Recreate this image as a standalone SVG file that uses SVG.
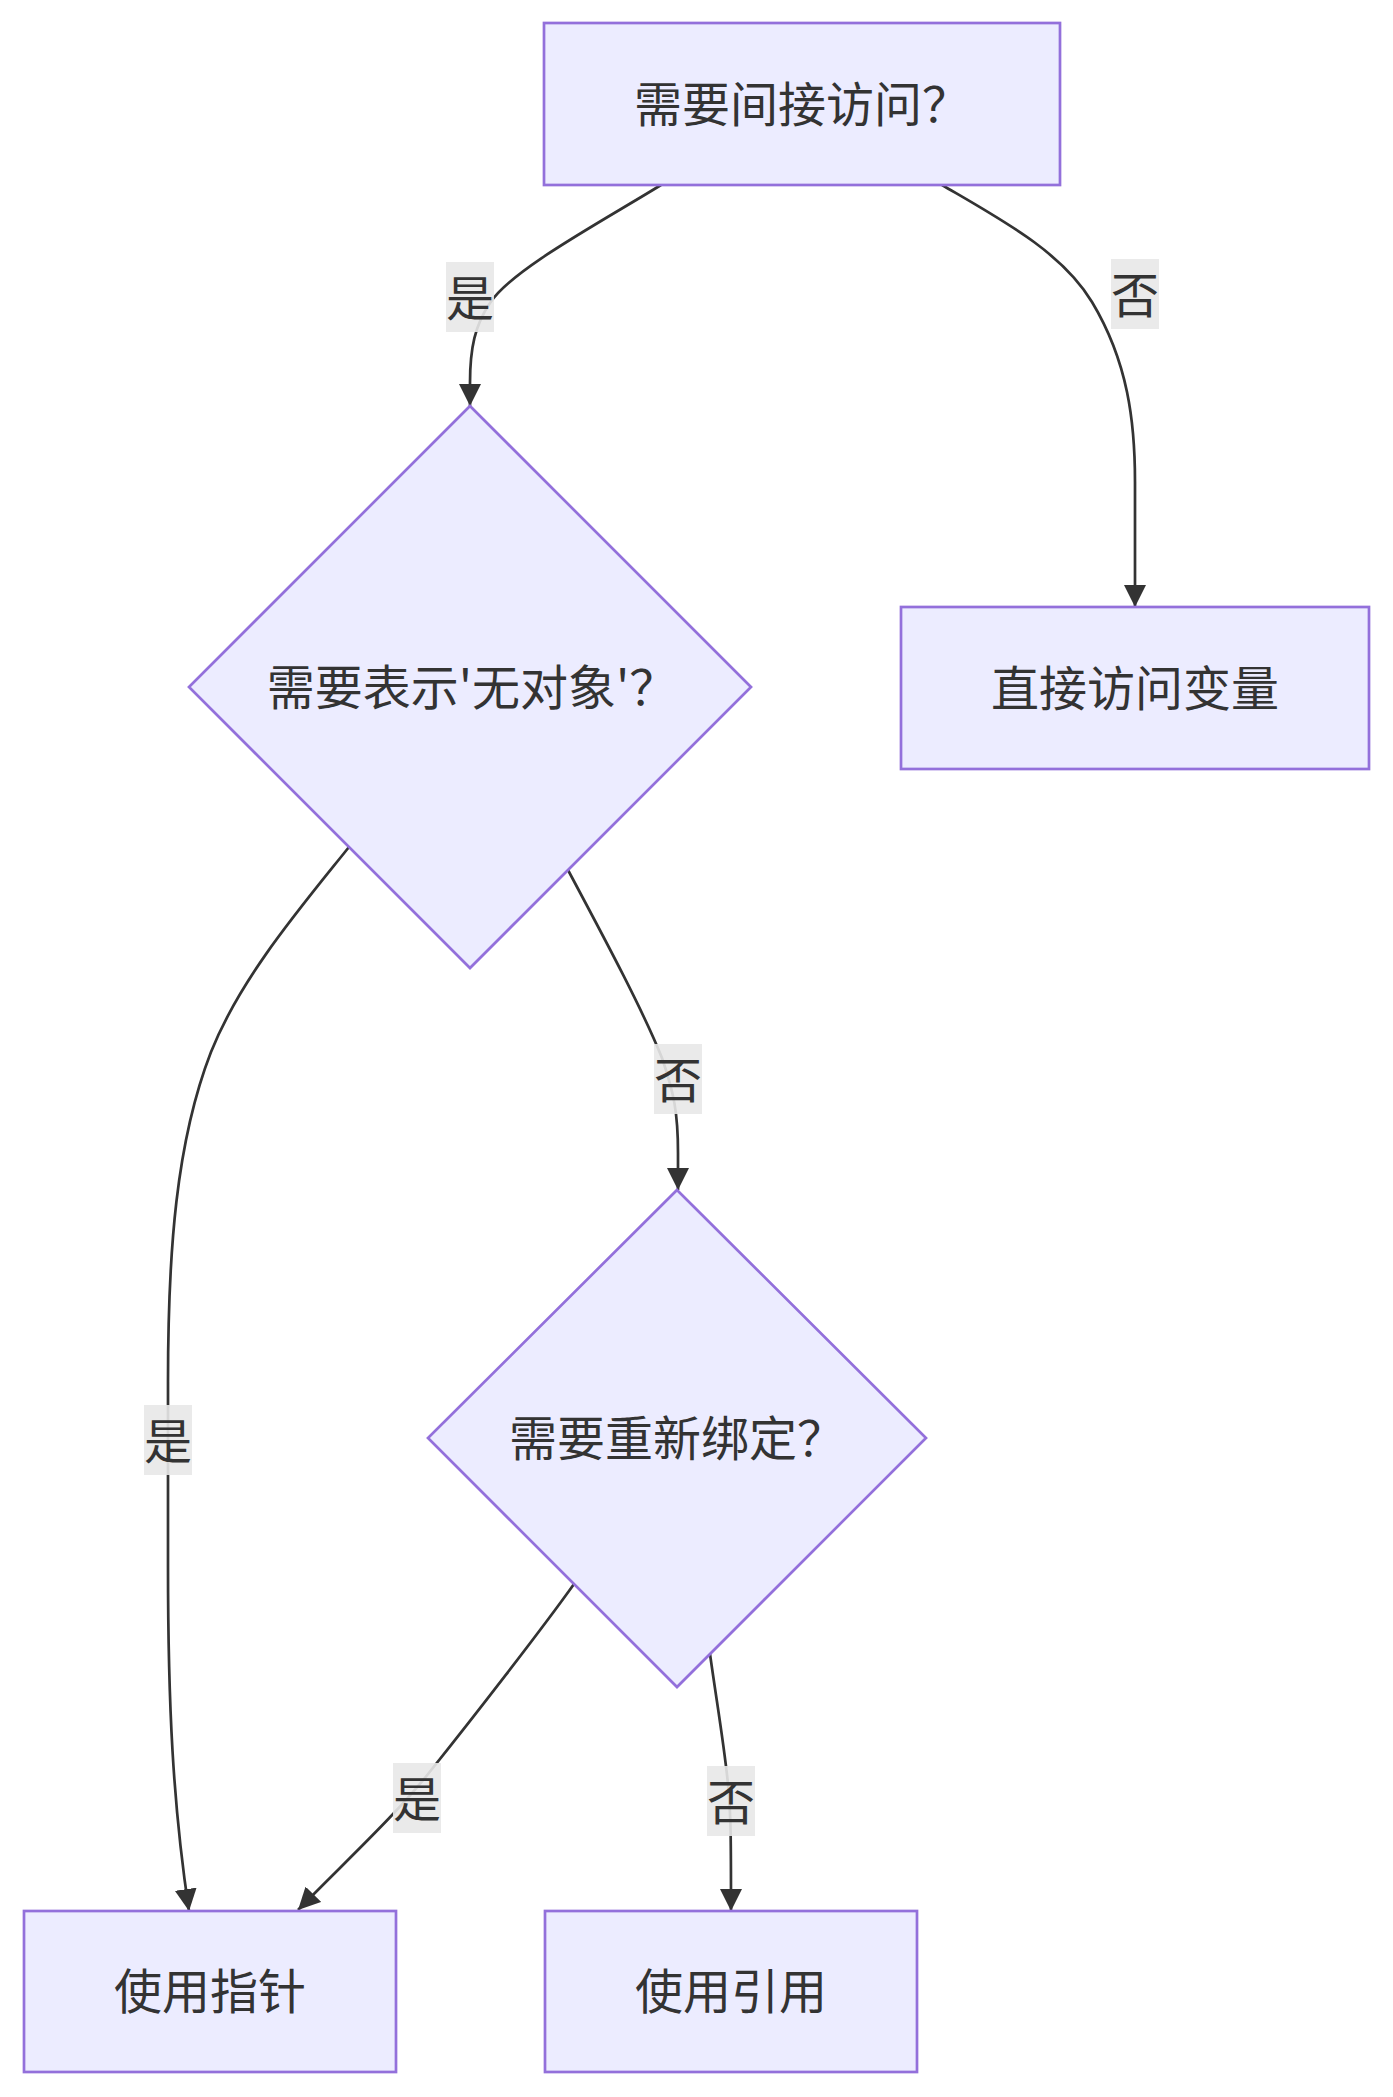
<svg xmlns="http://www.w3.org/2000/svg" width="1393" height="2097" viewBox="0 0 1393 2097">
<style>
.node{fill:#ECECFF;stroke:#9370DB;stroke-width:2.7}
.lbl{font-family:"Noto Sans CJK SC","Liberation Sans",sans-serif;font-size:48px;fill:#333;text-anchor:middle;dominant-baseline:central}
.edge{fill:none;stroke:#333;stroke-width:2.7}
.ebg{fill:#e8e8e8;fill-opacity:0.9}
</style>
<defs>
<marker id="arrow" viewBox="0 0 10 10" refX="10" refY="5" markerUnits="userSpaceOnUse" markerWidth="22" markerHeight="22" orient="auto">
<path d="M0,0 L10,5 L0,10 z" fill="#333"/>
</marker>
</defs>
<rect width="1393" height="2097" fill="#ffffff"/>
<g id="connectors">
<path class="edge" marker-end="url(#arrow)" d="M661,185 C601,222 511,270 490,303 C475,325 470,348 470,383 L470,406"/>
<path class="edge" marker-end="url(#arrow)" d="M942,185 C1002,220 1062,252 1092,302 C1128,362 1135,422 1135,482 L1135,607"/>
<path class="edge" marker-end="url(#arrow)" d="M349,847 C301,907 241,977 211,1052 C176,1142 168,1252 168,1382 L168,1565 C168,1705 173,1805 189,1911"/>
<path class="edge" marker-end="url(#arrow)" d="M568,870 C601,932 642,1008 662,1058 C674,1093 678,1113 678,1153 L678,1190"/>
<path class="edge" marker-end="url(#arrow)" d="M574,1584 C542,1629 472,1719 432,1769 C397,1814 352,1855 298,1910"/>
<path class="edge" marker-end="url(#arrow)" d="M710,1654 C717,1704 724,1744 728,1784 C731,1814 731,1844 731,1911"/>
</g>
<g id="edge-labels">
<g id="label-1"><rect class="ebg" x="446" y="262" width="48" height="70"/><text class="lbl" x="470" y="295">是</text></g>
<g id="label-2"><rect class="ebg" x="1111" y="259" width="48" height="70"/><text class="lbl" x="1135" y="292">否</text></g>
<g id="label-3"><rect class="ebg" x="144" y="1405" width="48" height="70"/><text class="lbl" x="168" y="1438">是</text></g>
<g id="label-4"><rect class="ebg" x="654" y="1044" width="48" height="70"/><text class="lbl" x="678" y="1077">否</text></g>
<g id="label-5"><rect class="ebg" x="393" y="1763" width="48" height="70"/><text class="lbl" x="417" y="1796">是</text></g>
<g id="label-6"><rect class="ebg" x="707" y="1766" width="48" height="70"/><text class="lbl" x="731" y="1799">否</text></g>
</g>
<g id="node-A"><rect class="node" x="544" y="23" width="516" height="162"/><text class="lbl" x="802" y="101">需要间接访问？</text></g>
<g id="node-B"><polygon class="node" points="470,406 751,687 470,968 189,687"/><text class="lbl" x="472" y="684">需要表示'无对象'？</text></g>
<g id="node-C"><rect class="node" x="901" y="607" width="468" height="162"/><text class="lbl" x="1135" y="685">直接访问变量</text></g>
<g id="node-D"><polygon class="node" points="677,1190 926,1438 677,1687 428,1438"/><text class="lbl" x="677" y="1435">需要重新绑定？</text></g>
<g id="node-E"><rect class="node" x="24" y="1911" width="372" height="161"/><text class="lbl" x="210" y="1988">使用指针</text></g>
<g id="node-F"><rect class="node" x="545" y="1911" width="372" height="161"/><text class="lbl" x="731" y="1988">使用引用</text></g>
</svg>
